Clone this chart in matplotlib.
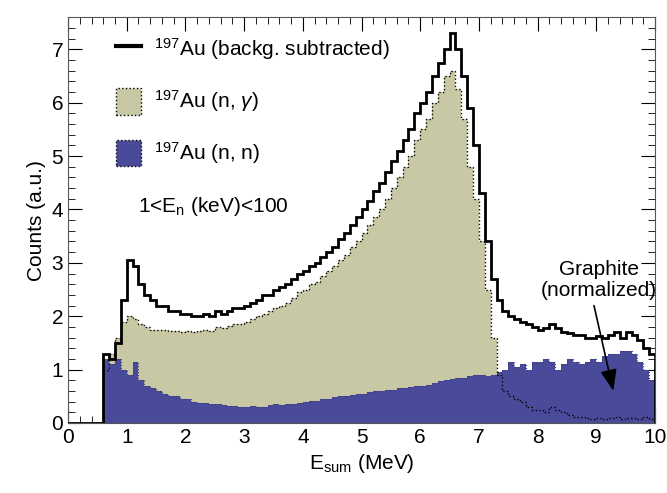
import numpy as np
import matplotlib
matplotlib.use("Agg")
import matplotlib.pyplot as plt
from matplotlib.patches import Patch
from matplotlib.lines import Line2D
from matplotlib.ticker import MultipleLocator

plt.rcParams['font.family'] = ['Liberation Sans', 'DejaVu Sans']
plt.rcParams['mathtext.fontset'] = 'custom'
plt.rcParams['mathtext.rm'] = 'Liberation Sans'
plt.rcParams['mathtext.it'] = 'Liberation Sans:italic'

edges = np.round(np.arange(0, 10.01, 0.1), 2)

total = [0]*6 + [1.3,1.2,1.5,2.3,3.05,2.95,2.6,2.4,2.3,2.2,2.2,2.1,2.1,2.05,
 2.05,2.0,2.0,2.05,2.0,2.1,2.05,2.1,2.15,2.15,2.2,2.25,2.3,2.4,2.4,2.5,2.55,2.6,2.7,2.8,
 2.85,2.95,3.0,3.1,3.2,3.3,3.45,3.55,3.7,3.85,4.0,4.15,4.35,4.5,4.7,4.9,5.1,5.3,5.5,5.8,
 6.0,6.2,6.5,6.75,7.0,7.3,7.0,6.5,5.9,5.2,4.3,3.4,2.7,2.3,2.1,2.0,1.95,1.9,1.85,1.8,
 1.75,1.78,1.85,1.78,1.7,1.68,1.65,1.65,1.6,1.6,1.63,1.6,1.65,1.7,1.6,1.7,1.65,1.55,1.4,1.3]

ngamma = [0]*6 + [1.0,1.3,1.6,1.9,2.0,1.95,1.85,1.8,1.75,1.75,1.75,1.72,1.72,1.7,
 1.72,1.7,1.72,1.75,1.72,1.8,1.78,1.82,1.85,1.85,1.9,1.95,2.0,2.05,2.1,2.15,2.2,2.25,2.35,2.45,
 2.5,2.6,2.65,2.75,2.85,2.95,3.05,3.15,3.3,3.4,3.55,3.7,3.85,4.0,4.2,4.4,4.6,4.8,5.0,5.3,
 5.5,5.7,6.0,6.2,6.5,6.6,6.25,5.7,4.8,4.2,3.4,2.5,1.6,0.9,0.6,0.5,0.45,0.4,0.3,0.25,
 0.25,0.2,0.3,0.25,0.2,0.15,0.12,0.12,0.1,0.08,0.1,0.08,0.1,0.12,0.08,0.1,0.1,0.08,0.12,0.08]

nn = [0]*6 + [1.2,1.1,1.2,1.0,0.9,1.15,0.8,0.7,0.65,0.6,0.55,0.5,0.5,0.45,
 0.45,0.4,0.38,0.38,0.35,0.35,0.33,0.32,0.32,0.3,0.3,0.32,0.3,0.3,0.33,0.35,0.33,0.35,0.36,0.38,
 0.4,0.42,0.42,0.45,0.45,0.48,0.5,0.5,0.52,0.55,0.55,0.58,0.6,0.6,0.62,0.62,0.65,0.65,0.68,0.7,
 0.7,0.72,0.75,0.78,0.8,0.82,0.85,0.85,0.88,0.9,0.9,0.88,0.9,0.95,1.0,1.15,1.05,1.1,1.0,1.15,
 1.15,1.2,1.15,1.0,1.1,1.2,1.15,1.1,1.15,1.2,1.15,1.25,1.3,1.3,1.35,1.35,1.3,1.15,1.0,0.8]

beige = '#c8c8a4'
blue = '#4a4a9a'

fig, ax = plt.subplots(figsize=(6.67, 4.93), dpi=100)
fig.subplots_adjust(left=0.102, right=0.982, bottom=0.142, top=0.965)

ax.stairs(ngamma, edges, fill=True, color=beige, zorder=1)
ax.stairs(nn, edges, fill=True, color=blue, zorder=2)
ax.stairs(ngamma, edges, color='black', linestyle=':', linewidth=1.0, zorder=3)
ax.stairs(nn, edges, color='#3a3a80', linestyle=':', linewidth=0.8, zorder=2.5)
ax.stairs(total, edges, color='black', linewidth=2.0, zorder=4)

ax.set_xlim(0, 10)
ax.set_ylim(0, 7.6)
ax.xaxis.set_major_locator(MultipleLocator(1))
ax.xaxis.set_minor_locator(MultipleLocator(0.2))
ax.yaxis.set_major_locator(MultipleLocator(1))
ax.yaxis.set_minor_locator(MultipleLocator(0.2))
ax.tick_params(which='both', direction='in', top=True, right=True, labelsize=15)
ax.tick_params(which='major', length=10)
ax.tick_params(which='minor', length=5)
for s in ax.spines.values():
    s.set_color('#555555')

ax.set_xlabel(r'E$_{\rm sum}$ (MeV)', fontsize=15)
ax.set_ylabel('Counts (a.u.)', fontsize=15)

handles = [Line2D([], [], color='black', lw=3),
           Patch(facecolor=beige, edgecolor='black', linestyle=':'),
           Patch(facecolor=blue, edgecolor='black', linestyle=':')]
labels = [r'$^{197}$Au (backg. subtracted)', r'$^{197}$Au (n, $\gamma$)', r'$^{197}$Au (n, n)']
ax.legend(handles, labels, loc='upper left', bbox_to_anchor=(0.05, 1.0), frameon=False,
          fontsize=15, labelspacing=1.2, handlelength=1.2, handleheight=1.6, handletextpad=0.6)

ax.text(1.2, 3.95, r'1<E$_{\rm n}$ (keV)<100', fontsize=15)
ax.text(9.05, 2.3, 'Graphite\n(normalized)', fontsize=15, ha='center', va='bottom', linespacing=1.15)
ax.annotate('', xy=(9.3, 0.55), xytext=(8.95, 2.25),
            arrowprops=dict(arrowstyle='-|>,head_length=1.3,head_width=0.5', color='black', lw=1.2))

fig.savefig('out.png')
